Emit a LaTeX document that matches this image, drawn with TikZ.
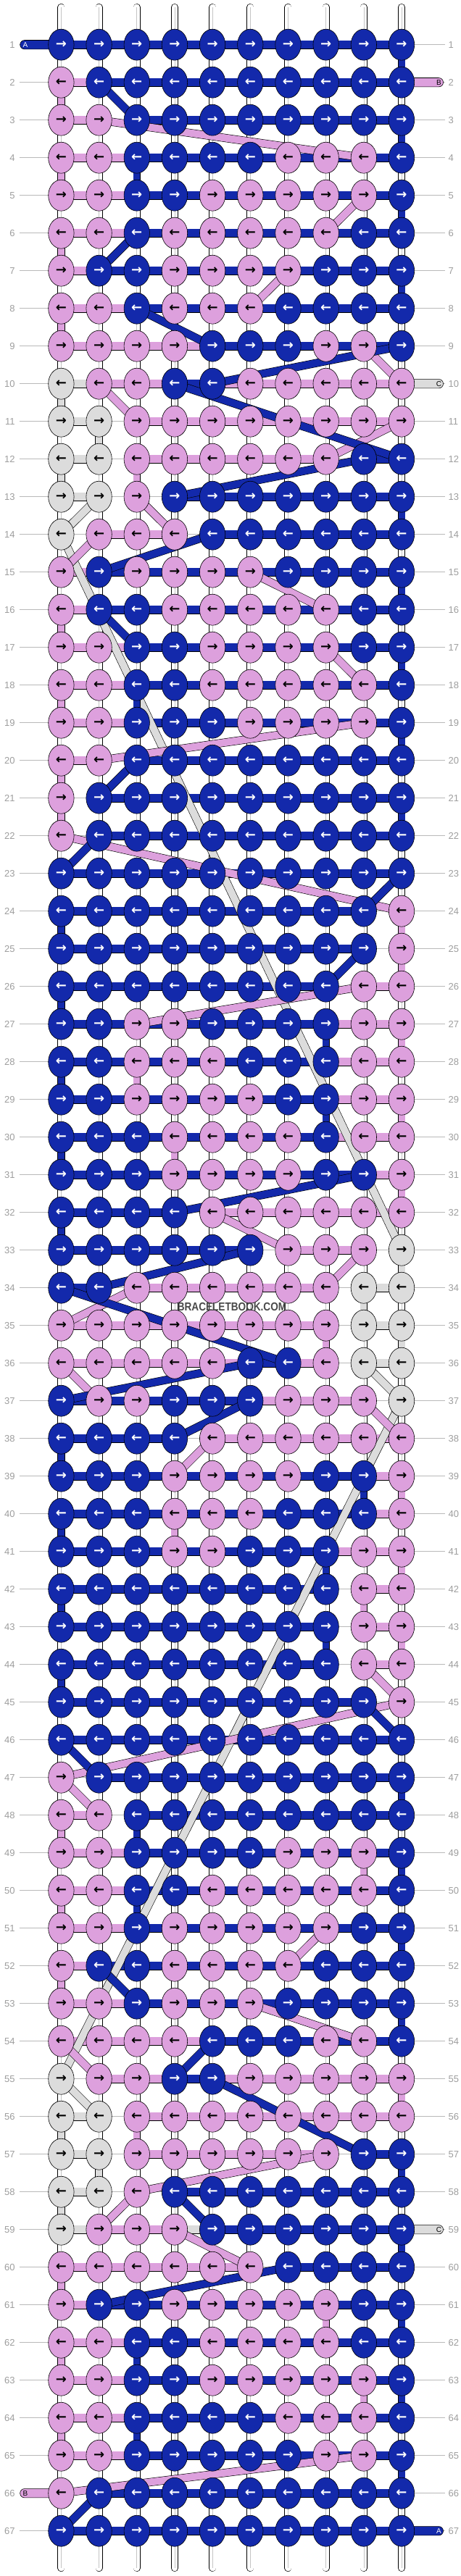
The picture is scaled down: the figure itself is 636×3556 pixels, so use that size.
\documentclass[tikz,border=0pt]{standalone}
\usepackage{fontspec}
\setmainfont{Liberation Sans}
\newfontfamily\arrowfont{DejaVu Sans}
\usetikzlibrary{shapes.geometric}
\definecolor{colB}{HTML}{1329AB}
\definecolor{colP}{HTML}{DDA0DD}
\definecolor{colG}{HTML}{DCDCDC}
\definecolor{labgray}{HTML}{9E9E9E}
\definecolor{linegray}{HTML}{B9B9B9}
\definecolor{wmgray}{HTML}{4A4A4A}
\definecolor{rodline}{HTML}{C4C4C4}
\pgfdeclarelayer{bg}
\pgfdeclarelayer{mid}
\pgfsetlayers{bg,mid,main}
\tikzset{
  knot/.style={ellipse,draw=black,line width=0.6pt,minimum width=35.4pt,minimum height=43pt,inner sep=0pt,font=\arrowfont\bfseries\fontsize{18}{18}\selectfont},
  txB/.style={text=white}, txP/.style={text=black}, txG/.style={text=black},
  bar/.style={draw=black,line width=0.6pt,double distance=11pt},
  stub/.style={draw=black,line width=0.6pt,double distance=9pt},
  diag/.style={draw=black,line width=0.6pt,double distance=10pt},
  endbar/.style={draw=black,line width=0.6pt,rounded corners=6.1pt},
  endlab/.style={font=\fontsize{10}{10}\selectfont,inner sep=0pt},
  lab/.style={font=\fontsize{13}{13}\selectfont,text=labgray,inner sep=0pt},
  rowline/.style={draw=linegray,line width=0.8pt},
  rod/.style={draw=black,line width=0.6pt,double=white,double distance=8.8pt,line cap=round},
  rodmid/.style={draw=rodline,line width=0.6pt},
  wm/.style={font=\bfseries\fontsize{16}{16}\selectfont,text=wmgray,inner sep=0pt}
}
\newcommand\arrR{→}
\newcommand\arrL{←}
\newcommand\letterB{A}
\newcommand\letterP{B}
\newcommand\letterG{C}
\newcommand\bbKnot[6]{\node[knot,fill=col#1,tx#1] (k-#2-#3) at (#4,#5) {\csname arr#6\endcsname};}
\newcommand\bbBar[4]{\draw[bar,double=col#1] (k-#2-#3.center) -- (k-#2-#4.center);}
\newcommand\bbConn[6]{\draw[#2,double=col#1] (k-#3-#4.center) -- (k-#5-#6.center);}
\newcommand\bbEnd[6]{%
  \coordinate (e-#2-#1) at (#4,#5);
  \path[endbar,fill=col#1] ([yshift=-6.15pt]e-#2-#1) rectangle ([yshift=6.15pt]k-#2-#3.center);
  \node[endlab,tx#1] (el-#2-#1) at (#6,#5) {\csname letter#1\endcsname};}
\newcommand\bbRow[2]{%
  \coordinate (ra-#1) at (26.5,#2);
  \coordinate (rb-#1) at (613.6,#2);
  \draw[rowline] (ra-#1) -- (rb-#1);
  \node[lab,anchor=east] (ll-#1) at (20.8,#2) {#1};
  \node[lab,anchor=west] (lr-#1) at (618.5,#2) {#1};}
\newcommand\bbRod[2]{%
  \coordinate (rt-#1) at (#2,10);
  \coordinate (rm-#1) at (#2,3545);
  \draw[rod] (rt-#1) -- (rm-#1);
  \draw[rodmid] (rt-#1) -- (rm-#1);}
\ExplSyntaxOn
\clist_const:Nn \c_bb_rows_clist
  {
    BBBBBBBBBB, PBBBBBBBBB, PPBBBBBBBB, PPBBBBPPPB, PPBBPPPPPB,
    PPBPPPPPBB, PBBPPPPBBB, PPBPPPBBBB, PPPPBBBPPB, GPPBBPPPPP,
    GGPPPPPPPP, GGPPPPPPBB, GGPBBBBBBB, GPPPBBBBBB, PBPPPPBBBB,
    PBBPPPPPBB, PPBBPPPPBB, PPBBPPPPPB, PPBBBPPPPB, PPBBBBBBBB,
    PBBBBBBBBB, PBBBBBBBBB, BBBBBBBBBB, BBBBBBBBBP, BBBBBBBBBP,
    BBBBBBBBPP, BBPPBBBBPP, BBPPPBBBPP, BBPPPPBBPP, BBBPPPPBPP,
    BBBPPPPBBP, BBBBPPPPPP, BBBBBBPPPG, BBPPPPPPGG, PPPPPPPPGG,
    PPPPPBBPGG, BPPBBBPPPG, BBBBPPPPPP, BBBPPPPBBP, BBBPPPBBBP,
    BBBPPBBBPP, BBBBBBBBPP, BBBBBBBBPP, BBBBBBBBPP, BBBBBBBBBP,
    BBBBBBBBBB, PBBBBBBBBB, PPBBBBBBBB, PPBBBBPPPB, PPBBPPPPPB,
    PPBPPPPPBB, PBBPPPPBBB, PPBPPPBBBB, PPPPBBBPPB, GPPBBPPPPP,
    GGPPPPPPPP, GGPPPPPPBB, GGPBBBBBBB, GPPPBBBBBB, PPPPPPBBBB,
    PBBPPPPPBB, PPBBPPPPBB, PPBBPPPPPB, PPBBBBPPPB, PPBBBBBPPB,
    PBBBBBBBBB, BBBBBBBBBB
  }
\int_step_inline:nn { 67 }
  { \tl_const:cx { c_bb_row_ #1 _tl } { \clist_item:Nn \c_bb_rows_clist {#1} } }
\int_new:N \l_bb_fB_int
\int_new:N \l_bb_lB_int
\int_new:N \l_bb_fP_int
\int_new:N \l_bb_lP_int
\int_new:N \l_bb_fG_int
\int_new:N \l_bb_lG_int
\int_new:N \l_bb_prevr_int
\int_new:N \l_bb_prevc_int
\int_new:N \l_bb_fc_int
\bool_new:N \l_bb_pres_bool
\tl_new:N \l_bb_bar_tl
\tl_new:N \l_bb_sty_tl
\cs_new:Npn \bb_c:nn #1#2 { \tl_item:cn { c_bb_row_ \int_eval:n {#1} _tl } {#2} }
\cs_new:Npn \bb_cp:nn #1#2 { \int_if_odd:nTF {#1} { \int_eval:n {#2} } { \int_eval:n { 11 - ( #2 ) } } }
\cs_new:Npn \bb_x:n #1 { \fp_eval:n { 84.4 + 52.18 * ( #1 - 1 ) } }
\cs_new:Npn \bb_y:n #1 { \fp_eval:n { 61.7 + 52 * ( #1 - 1 ) } }
\cs_new:Npn \bb_entry:nn #1#2
  {
    \str_case:nnF {#2}
      {
        {B} { \int_compare:nNnTF {#1} = {1} {1} {0} }
        {P} { \int_compare:nNnTF {#1} = {2} {1} {0} }
        {G} { \int_compare:nNnTF {#1} = {10} {1} {0} }
      }
      {0}
  }
\cs_new:Npn \bb_exit:nn #1#2
  {
    \str_case:nnF {#2}
      {
        {B} { \int_compare:nNnTF {#1} = {67} {1} {0} }
        {P} { \int_compare:nNnTF {#1} = {66} {1} {0} }
        {G} { \int_compare:nNnTF {#1} = {59} {1} {0} }
      }
      {0}
  }
\cs_new_protected:Npn \bb_fl:nn #1#2
  {
    \int_set:cn { l_bb_f #2 _int } { 99 }
    \int_set:cn { l_bb_l #2 _int } { 0 }
    \int_step_inline:nn { 10 }
      {
        \str_if_eq:eeT { \bb_c:nn {#1} { \bb_cp:nn {#1} {##1} } } { #2 }
          {
            \int_compare:nNnT { \int_use:c { l_bb_f #2 _int } } = { 99 }
              { \int_set:cn { l_bb_f #2 _int } { ##1 } }
            \int_set:cn { l_bb_l #2 _int } { ##1 }
          }
      }
  }
\cs_new_protected:Npn \bb_pres:nnn #1#2#3
  {
    \bool_set:Nn \l_bb_pres_bool
      {
        (
          \int_compare_p:nNn { \bb_entry:nn {#1} {#2} } = { 1 }
          ||
          \int_compare_p:nNn { \int_use:c { l_bb_f #2 _int } } < { #3 + 1 }
        )
        &&
        (
          \int_compare_p:nNn { \bb_exit:nn {#1} {#2} } = { 1 }
          ||
          \int_compare_p:nNn { \int_use:c { l_bb_l #2 _int } } > { #3 }
        )
      }
  }
\cs_new_protected:Npn \bb_bars:n #1
  {
    \bb_fl:nn {#1} {B}
    \bb_fl:nn {#1} {P}
    \bb_fl:nn {#1} {G}
    \int_step_inline:nn { 9 }
      {
        \tl_set:Nn \l_bb_bar_tl { }
        \clist_map_inline:nn { G, P, B }
          {
            \bb_pres:nnn {#1} {####1} {##1}
            \bool_if:NT \l_bb_pres_bool { \tl_set:Nn \l_bb_bar_tl {####1} }
          }
        \tl_if_empty:NF \l_bb_bar_tl
          {
            \use:e
              {
                \exp_not:N \bbBar { \l_bb_bar_tl } {#1}
                  { \bb_cp:nn {#1} {##1} } { \bb_cp:nn {#1} { ##1 + 1 } }
              }
          }
      }
  }
\cs_new_protected:Npn \bb_end:nnnn #1#2#3#4
  {
    \use:e
      {
        \exp_not:N \bbEnd {#1} {#2} {#3}
          { \str_if_eq:eeTF {#4} {L} {27.7} {611.5} }
          { \bb_y:n {#2} }
          { \str_if_eq:eeTF {#4} {L} {35} {605.5} }
      }
  }
\cs_new_protected:Npn \bb_ends:n #1
  {
    \clist_map_inline:nn { B, P, G }
      {
        \int_compare:nNnT { \bb_entry:nn {#1} {##1} } = { 1 }
          { \bb_end:nnnn {##1} {#1} { \bb_cp:nn {#1} {1} } { \int_if_odd:nTF {#1} {L} {R} } }
        \int_compare:nNnT { \bb_exit:nn {#1} {##1} } = { 1 }
          { \bb_end:nnnn {##1} {#1} { \bb_cp:nn {#1} {10} } { \int_if_odd:nTF {#1} {R} {L} } }
      }
  }
\cs_new_protected:Npn \bb_conns:n #1
  {
    \int_set:Nn \l_bb_prevr_int { 0 }
    \int_step_inline:nn { 67 }
      {
        \bb_fl:nn {##1} {#1}
        \int_compare:nNnT { \int_use:c { l_bb_f #1 _int } } < { 99 }
          {
            \int_compare:nNnT { \l_bb_prevr_int } > { 0 }
              {
                \int_set:Nn \l_bb_fc_int { \bb_cp:nn {##1} { \int_use:c { l_bb_f #1 _int } } }
                \bool_if:nTF
                  {
                    \int_compare_p:nNn {##1} = { \l_bb_prevr_int + 1 }
                    &&
                    \int_compare_p:nNn { \l_bb_fc_int } = { \l_bb_prevc_int }
                  }
                  { \tl_set:Nn \l_bb_sty_tl { stub } }
                  { \tl_set:Nn \l_bb_sty_tl { diag } }
                \use:e
                  {
                    \exp_not:N \bbConn {#1} { \l_bb_sty_tl }
                      { \int_use:N \l_bb_prevr_int } { \int_use:N \l_bb_prevc_int }
                      {##1} { \int_use:N \l_bb_fc_int }
                  }
              }
            \int_set:Nn \l_bb_prevr_int {##1}
            \int_set:Nn \l_bb_prevc_int { \bb_cp:nn {##1} { \int_use:c { l_bb_l #1 _int } } }
          }
      }
  }
\cs_new_protected:Npn \bbDrawFrame
  {
    \int_step_inline:nn { 67 }
      { \use:e { \exp_not:N \bbRow {##1} { \bb_y:n {##1} } } }
    \int_step_inline:nn { 10 }
      { \use:e { \exp_not:N \bbRod {##1} { \bb_x:n {##1} } } }
  }
\cs_new_protected:Npn \bbDrawKnots
  {
    \int_step_inline:nn { 67 }
      {
        \int_step_inline:nn { 10 }
          {
            \use:e
              {
                \exp_not:N \bbKnot
                  { \bb_c:nn {##1} {####1} } {##1} {####1}
                  { \bb_x:n {####1} } { \bb_y:n {##1} }
                  { \int_if_odd:nTF {##1} {R} {L} }
              }
          }
      }
  }
\cs_new_protected:Npn \bbDrawBars
  { \int_step_inline:nn { 67 } { \bb_bars:n {##1} \bb_ends:n {##1} } }
\cs_new_protected:Npn \bbDrawConns
  { \clist_map_inline:nn { G, P, B } { \bb_conns:n {##1} } }
\ExplSyntaxOff
\begin{document}
\begin{tikzpicture}[x=1pt,y=-1pt]
\useasboundingbox (0,0) rectangle (636,3556);
\begin{pgfonlayer}{bg}
\fill[white] (0,0) rectangle (636,3556);
\bbDrawFrame
\end{pgfonlayer}
\bbDrawKnots
\begin{pgfonlayer}{mid}
\bbDrawBars
\bbDrawConns
\end{pgfonlayer}
\node[wm] (wm) at (320,1804) {\scalebox{0.85}[1]{BRACELETBOOK.COM}};
\end{tikzpicture}
\end{document}
